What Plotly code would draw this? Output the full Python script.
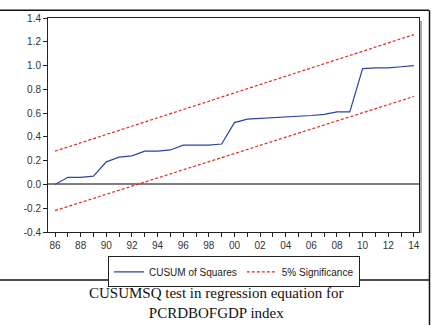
import plotly.graph_objects as go

years = list(range(1986, 2015))
cusumsq = [0.00, 0.06, 0.06, 0.07, 0.19, 0.23, 0.24, 0.28, 0.28, 0.29,
           0.33, 0.33, 0.33, 0.34, 0.52, 0.55, 0.555, 0.56, 0.565, 0.57,
           0.58, 0.59, 0.61, 0.61, 0.975, 0.98, 0.98, 0.99, 1.00]
upper_years = [1986, 2014]
upper_vals = [0.28, 1.26]
lower_vals = [-0.22, 0.74]
xtick_vals = list(range(1986, 2015, 2))
xtick_text = [f"{y % 100:02d}" for y in xtick_vals]
ytick_vals = [-0.4, -0.2, 0.0, 0.2, 0.4, 0.6, 0.8, 1.0, 1.2, 1.4]
caption = "CUSUMSQ test in regression equation for<br>PCRDBOFGDP index"

fig = go.Figure()
fig.add_trace(go.Scatter(x=years, y=cusumsq, mode="lines", name="CUSUM of Squares",
                         line=dict(color="#2a44a8", width=1.2)))
fig.add_trace(go.Scatter(x=upper_years, y=upper_vals, mode="lines", name="5% Significance",
                         line=dict(color="#e8241c", width=1.2, dash="3px,2px")))
fig.add_trace(go.Scatter(x=upper_years, y=lower_vals, mode="lines", showlegend=False,
                         line=dict(color="#e8241c", width=1.2, dash="3px,2px")))

W, H = 432, 325
L, R, T, B = 48, 13, 13, 93
pw, ph = W - L - R, H - T - B

fig.update_layout(
    width=W, height=H,
    margin=dict(l=L, r=R, t=T, b=B),
    paper_bgcolor="white", plot_bgcolor="white",
    font=dict(family="Arial, Liberation Sans", size=10, color="#333333"),
    showlegend=True,
    legend=dict(orientation="h", x=(234 - L) / pw, xanchor="center",
                y=-(257 - (H - B)) / ph, yanchor="top",
                bordercolor="#222222", borderwidth=1, bgcolor="white",
                font=dict(size=10, color="#222222"),
                itemwidth=30, tracegroupgap=0),
    xaxis=dict(range=[1985.45, 2014.4], tickvals=xtick_vals, ticktext=xtick_text,
               ticks="outside", ticklen=4, tickcolor="#222222", showgrid=False,
               zeroline=False, showline=True, linecolor="#222222", linewidth=1,
               mirror=True,
               minor=dict(tickvals=list(range(1987, 2015, 2)), ticks="outside",
                          ticklen=4, tickcolor="#222222")),
    yaxis=dict(range=[-0.4, 1.4], tickvals=ytick_vals,
               ticktext=[f"{v:.1f}" for v in ytick_vals],
               ticks="outside", ticklen=4, tickcolor="#222222", showgrid=False,
               zeroline=True, zerolinecolor="#808080", zerolinewidth=2,
               showline=True, linecolor="#222222", linewidth=1, mirror=True),
)

# plot box shadow on right side
fig.add_shape(type="line", xref="paper", yref="paper",
              x0=1 + 2 / pw, x1=1 + 2 / pw, y0=-1 / ph, y1=1 - 3 / ph,
              line=dict(color="#aaaaaa", width=2))
# outer frame lines
fig.add_shape(type="line", xref="paper", yref="paper",
              x0=-L / pw, x1=(429 - L) / pw, y0=1 + (T - 5) / ph, y1=1 + (T - 5) / ph,
              line=dict(color="#111111", width=1.5))
fig.add_shape(type="line", xref="paper", yref="paper",
              x0=(429.5 - L) / pw, x1=(429.5 - L) / pw, y0=-(H - T) / ph, y1=1 + (T - 5) / ph,
              line=dict(color="#111111", width=1.5))
fig.add_shape(type="line", xref="paper", yref="paper",
              x0=-L / pw, x1=(429 - L) / pw, y0=-(281 - T - ph) / ph, y1=-(281 - T - ph) / ph,
              line=dict(color="#111111", width=1.5))

fig.add_annotation(text=caption, xref="paper", yref="paper",
                   x=(216 - L) / pw, y=-(284 - (H - B)) / ph, xanchor="center", yanchor="top",
                   showarrow=False, align="center",
                   font=dict(family="Liberation Serif, Times New Roman", size=15, color="#111111"))

fig.write_html("out.html", config={"displayModeBar": False},
               post_script="document.body.style.margin='0';document.body.style.overflow='hidden';")
